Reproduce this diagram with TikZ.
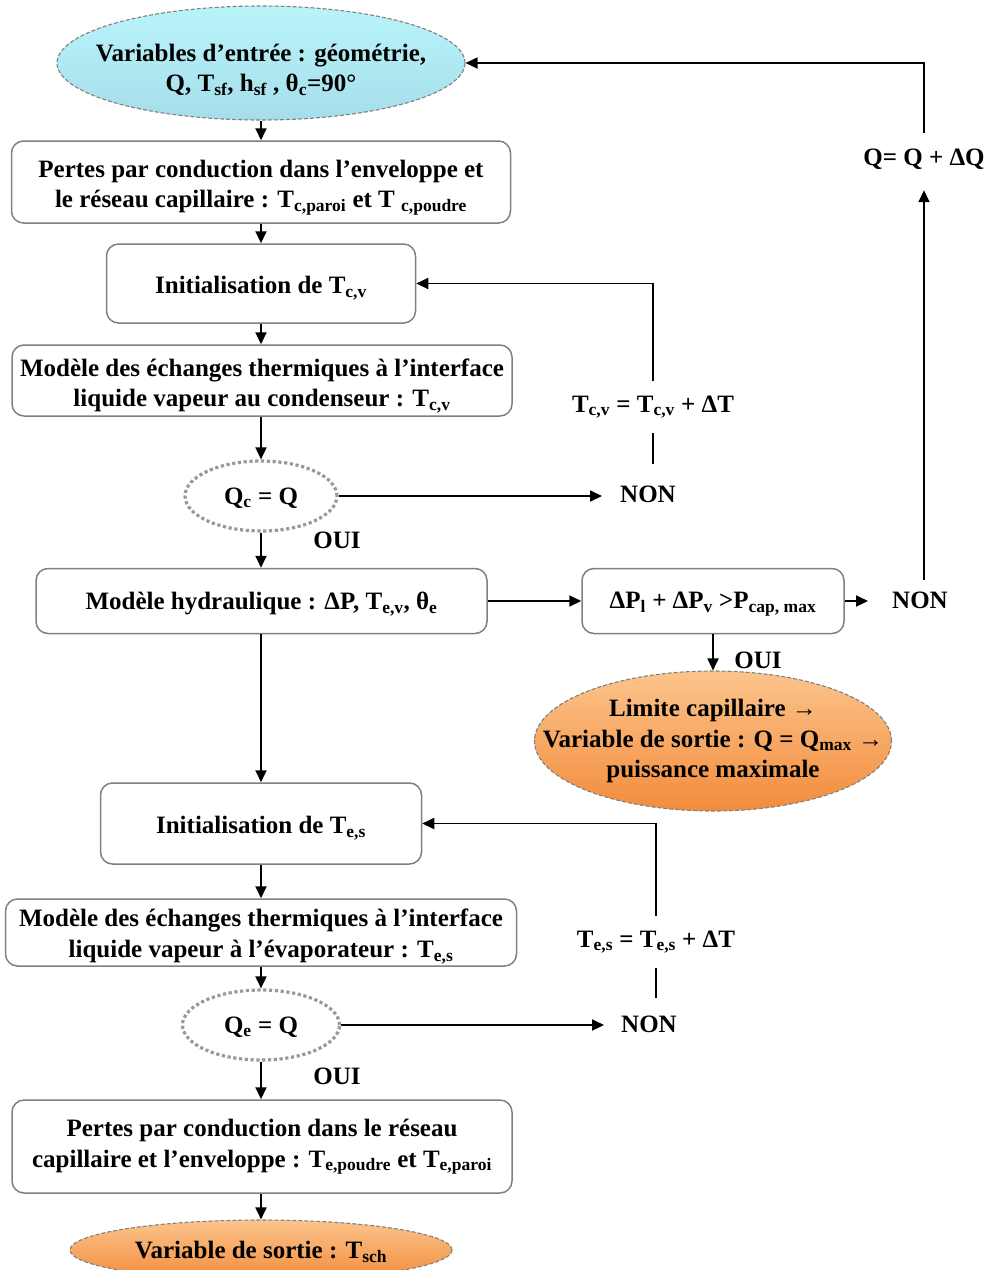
\documentclass[tikz,border=0pt]{standalone}
\usepackage{fontspec}
\setmainfont{Liberation Serif}
\usetikzlibrary{shapes.geometric,arrows.meta,calc}
\newcommand\sbs[1]{\textsubscript{#1}}
\definecolor{boxgray}{RGB}{128,128,128}
\definecolor{cyanA}{RGB}{185,244,250}
\definecolor{cyanB}{RGB}{165,222,234}
\definecolor{orA}{RGB}{252,196,140}
\definecolor{orB}{RGB}{242,140,60}
\begin{document}
\begin{tikzpicture}[x=1pt,y=-1pt,
  every node/.style={font=\fontsize{25}{30.5}\selectfont\bfseries, align=center},
  box/.style={draw=boxgray, line width=1.5pt, rounded corners=12pt, inner sep=0pt},
  dotell/.style={ellipse, draw=gray!80, line width=3.2pt, dash pattern=on 3.2pt off 2.6pt, inner sep=0pt},
  cyanell/.style={ellipse, draw=gray, line width=1.1pt, dash pattern=on 4pt off 2pt, top color=cyanA, bottom color=cyanB, inner sep=0pt},
  orell/.style={ellipse, draw=gray, line width=1.1pt, dash pattern=on 4pt off 2pt, top color=orA, bottom color=orB, inner sep=0pt},
  txt/.style={inner sep=0pt},
  lbl/.style={inner sep=0pt, text height=17pt, text depth=6pt},
  arr/.style={line width=1.8pt, -{Triangle[length=12pt,width=11pt]}},
  ln/.style={line width=1.8pt}]
\useasboundingbox (0,0) rectangle (991,1270);

% shapes
\node[cyanell, minimum width=408pt, minimum height=114pt] (e0) at (261,63) {};
\node[box, minimum width=499pt, minimum height=82pt] (b1) at (261,182) {};
\node[box, minimum width=309pt, minimum height=79pt] (b2) at (261,283.5) {};
\node[box, minimum width=500pt, minimum height=71pt] (b3) at (262,380.5) {};
\node[dotell, minimum width=152pt, minimum height=70pt] (ec) at (261,496) {};
\node[box, minimum width=451pt, minimum height=65pt] (b4) at (261.5,601) {};
\node[box, minimum width=262pt, minimum height=65pt] (b5) at (713,601) {};
\node[orell, minimum width=357pt, minimum height=140pt] (eo) at (713,741) {};
\node[box, minimum width=321pt, minimum height=81pt] (b6) at (261,823.5) {};
\node[box, minimum width=511pt, minimum height=67pt] (b7) at (261,932.5) {};
\node[dotell, minimum width=157pt, minimum height=70pt] (ee) at (261,1025) {};
\node[box, minimum width=500pt, minimum height=93pt] (b8) at (262,1146.5) {};
\node[orell, minimum width=382pt, minimum height=60pt] (ef) at (261,1250) {};

% texts inside shapes
\node[txt] (e0t) at ([yshift=-7pt]e0.center) {Variables d’entrée : géométrie,\\Q, T\sbs{sf}, h\sbs{sf} , θ\sbs{c}=90°};
\node[txt] (b1t) at ([yshift=-5.5pt]b1.center) {Pertes par conduction dans l’enveloppe et\\le réseau capillaire : T\sbs{c,paroi} et T \sbs{c,poudre}};
\node[txt] (b2t) at ([yshift=-5pt]b2.center) {Initialisation de T\sbs{c,v}};
\node[txt] (b3t) at ([yshift=-5.5pt]b3.center) {Modèle des échanges thermiques à l’interface\\liquide vapeur au condenseur : T\sbs{c,v}};
\node[txt] (ect) at ([yshift=-2pt]ec.center) {Q\sbs{c} = Q};
\node[txt] (b4t) at ([yshift=-3pt]b4.center) {Modèle hydraulique : ΔP, T\sbs{e,v}, θ\sbs{e}};
\node[txt] (b5t) at ([yshift=-3pt]b5.center) {ΔP\sbs{l} + ΔP\sbs{v} >P\sbs{cap, max}};
\node[txt] (eot) at (eo.center) {Limite capillaire →\\Variable de sortie : Q = Q\sbs{max} →\\puissance maximale};
\node[txt] (b6t) at ([yshift=-5pt]b6.center) {Initialisation de T\sbs{e,s}};
\node[txt] (b7t) at ([yshift=-4pt]b7.center) {Modèle des échanges thermiques à l’interface\\liquide vapeur à l’évaporateur : T\sbs{e,s}};
\node[txt] (eet) at ([yshift=-2pt]ee.center) {Q\sbs{e} = Q};
\node[txt] (b8t) at ([yshift=-0.5pt]b8.center) {Pertes par conduction dans le réseau\\capillaire et l’enveloppe : T\sbs{e,poudre} et T\sbs{e,paroi}};
\node[txt] (eft) at ([yshift=-2pt]ef.center) {Variable de sortie : T\sbs{sch}};

% free labels
\node[lbl] (non1) at (648,496.5) {NON};
\node[lbl] (t1) at (653,406.5) {T\sbs{c,v} = T\sbs{c,v} + ΔT};
\node[lbl] (oui1) at (337,542.5) {OUI};
\node[lbl] (non2) at (920,602.5) {NON};
\node[lbl] (dq) at (924,159.5) {Q= Q + ΔQ};
\node[lbl] (oui2) at (758,662.5) {OUI};
\node[lbl] (non3) at (649,1026.5) {NON};
\node[lbl] (t2) at (656,941.5) {T\sbs{e,s} = T\sbs{e,s} + ΔT};
\node[lbl] (oui3) at (337,1078.5) {OUI};

% main flow
\draw[arr] (e0.south) -- (b1.north);
\draw[arr] (b1.south) -- (b2.north);
\draw[arr] (b2.south) -- (b2.south |- b3.north);
\draw[arr] (b3.south -| ec.north) -- (ec.north);
\draw[arr] (ec.south) -- (b4.north -| ec.south);
\draw[arr] (b4.south -| b6.north) -- (b6.north);
\draw[arr] (b6.south) -- (b7.north);
\draw[arr] (b7.south -| ee.north) -- (ee.north);
\draw[arr] (ee.south) -- (b8.north -| ee.south);
\draw[arr] (b8.south -| ef.north) -- (ef.north);
% condenser loop
\draw[arr, shorten >=18pt] (ec.east) -- (ec.east -| non1.west);
\draw[ln] ([yshift=21pt]non1.north -| t1.south) -- ([yshift=-15pt]t1.south);
\draw[arr] ([yshift=14pt]t1.north) |- (b2.east);
% evaporator loop
\draw[arr, shorten >=17pt] (ee.east) -- (ee.east -| non3.west);
\draw[ln] ([yshift=17pt]non3.north -| t2.south) -- ([yshift=-15pt]t2.south);
\draw[arr] ([yshift=14pt]t2.north) |- (b6.east);
% hydraulic
\draw[arr] (b4.east) -- (b5.west);
\draw[arr, shorten >=24pt] (b5.east) -- (b5.east -| non2.west);
\draw[arr] (b5.south) -- (eo.north);
\draw[arr] ([yshift=11pt]non2.north -| dq.south) -- ([yshift=-19pt]dq.south);
\draw[arr] ([yshift=15pt]dq.north) |- (e0.east);
\end{tikzpicture}
\end{document}
